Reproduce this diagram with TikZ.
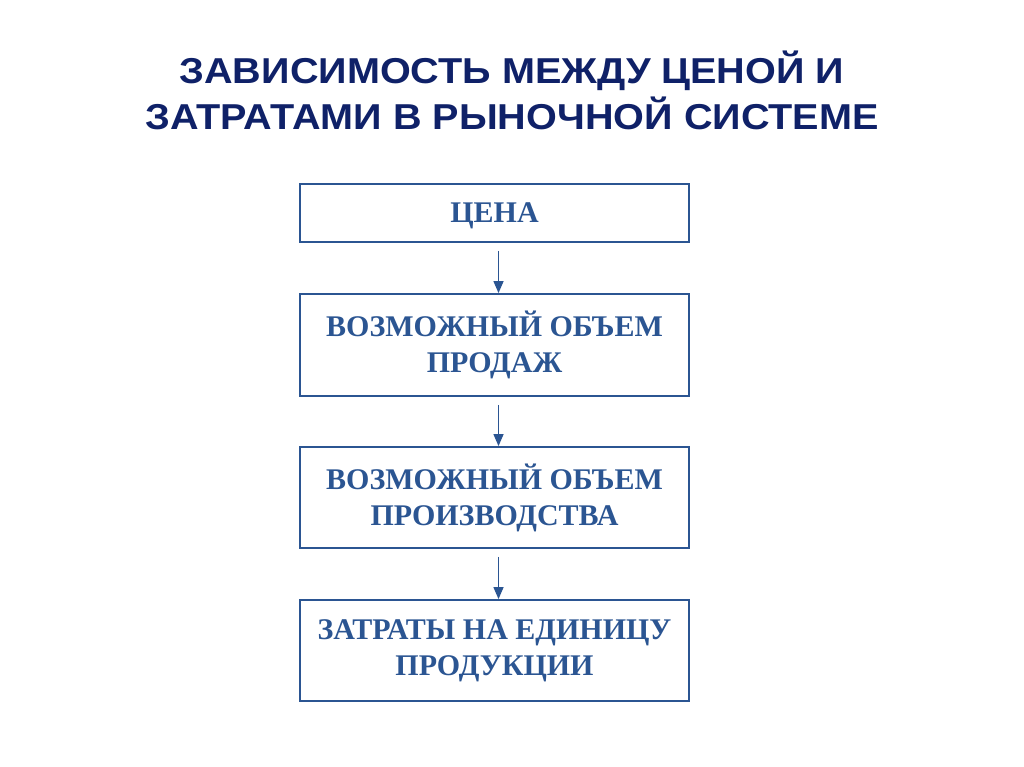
\documentclass[tikz,border=0pt]{standalone}
\usepackage{fontspec}
\setmainfont{Liberation Serif}
\newfontfamily\titlefont[FakeStretch=1.1]{Liberation Sans}
\usetikzlibrary{arrows.meta}
\definecolor{titleblue}{HTML}{0F2168}
\definecolor{boxblue}{HTML}{2B5592}

\begin{document}
\begin{tikzpicture}[x=1pt, y=1pt,
        titleline/.style = {anchor=base, text=titleblue, font={\titlefont\bfseries\fontsize{36}{44}\selectfont}},
        stepbox/.style = {draw=boxblue, line width=1.8pt, minimum width=389pt, inner sep=0pt, align=center,
            text=boxblue, font={\bfseries\fontsize{30}{36}\selectfont}},
        flow/.style = {draw=boxblue, line width=1.3pt, -{Triangle[length=12pt, width=10pt]}}]
        \useasboundingbox (0,0) rectangle (1024,767);

        \node[titleline] (title1) at (512, 683) {ЗАВИСИМОСТЬ МЕЖДУ ЦЕНОЙ И};
        \node[titleline] (title2) at (512, 637) {ЗАТРАТАМИ В РЫНОЧНОЙ СИСТЕМЕ};


        \node[stepbox, minimum height=58pt, text depth=0pt] (price) at (494.5, 554) {ЦЕНА};


        \node[stepbox, minimum height=102pt] (sales) at (494.5, 422) {ВОЗМОЖНЫЙ ОБЪЕМ\\ПРОДАЖ};


        \node[stepbox, minimum height=101pt] (output) at (494.5, 269.5) {ВОЗМОЖНЫЙ ОБЪЕМ\\ПРОИЗВОДСТВА};


        \node[stepbox, minimum height=101pt] (cost) at (494.5, 116.5) {ЗАТРАТЫ НА ЕДИНИЦУ\\ПРОДУКЦИИ};

        
        \draw[flow] ([xshift=4pt, yshift=-8pt]price.south) -- ([xshift=4pt]sales.north);
        \draw[flow] ([xshift=4pt, yshift=-8pt]sales.south) -- ([xshift=4pt]output.north);
        \draw[flow] ([xshift=4pt, yshift=-8pt]output.south) -- ([xshift=4pt]cost.north);
    \end{tikzpicture}
\end{document}
